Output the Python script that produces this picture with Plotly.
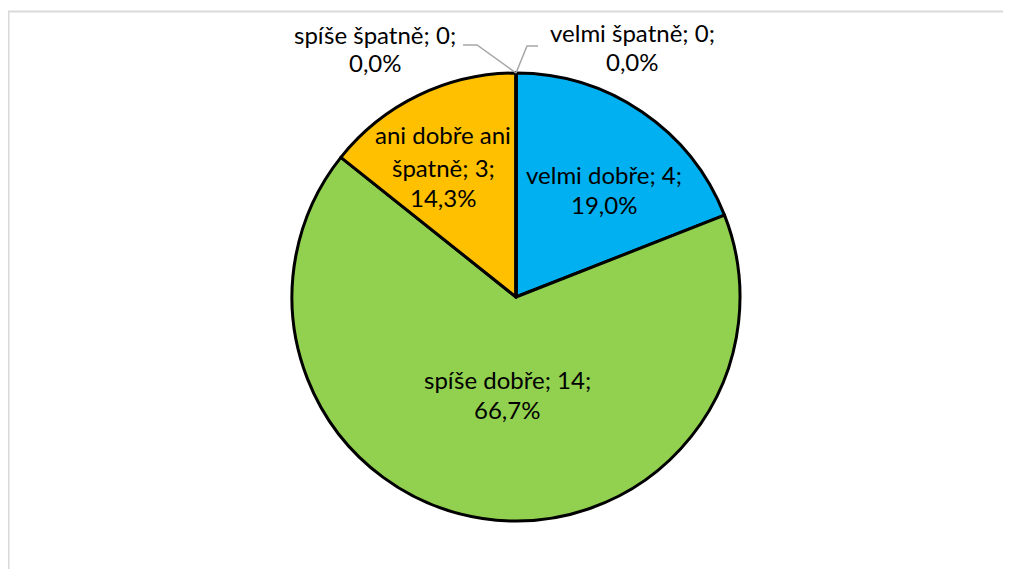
import plotly.graph_objects as go

categories = ["velmi dobře", "spíše dobře", "ani dobře ani špatně", "spíše špatně", "velmi špatně"]
values = [4, 14, 3, 0, 0]
colors = ["#00B0F0", "#92D050", "#FFC000", "#A5A5A5", "#4472C4"]

# page body has an 8px margin, so the figure is drawn 8px in from the window corner
OFF = 8
W, H = 1011 - 2 * OFF, 577 - 2 * OFF
total = sum(values)

def px(x):
    return (x - OFF) / W

def py(y):
    return 1 - (y - OFF) / H

def pct(v):
    return f"{100 * v / total:.1f}".replace(".", ",") + "%"

fig = go.Figure(go.Pie(
    labels=categories,
    values=values,
    sort=False,
    direction="clockwise",
    rotation=0,
    marker=dict(colors=colors, line=dict(color="black", width=3)),
    textinfo="none",
    hoverinfo="label+value+percent",
    showlegend=False,
    domain=dict(x=[px(292), px(740)], y=[py(521), py(73)]),
))

FONT = dict(family="Lato, Open Sans, sans-serif", size=24, color="black")

# label anchor positions (pixels in the window): center x, line center ys
label_pos = {
    "velmi dobře": (604, [175, 205]),
    "spíše dobře": (507, [379, 409]),
    "ani dobře ani špatně": (443, [135, 167, 198]),
    "spíše špatně": (375, [34, 63]),
    "velmi špatně": (632, [33, 62]),
}
for cat, v in zip(categories, values):
    x, ys = label_pos[cat]
    if cat == "ani dobře ani špatně":
        lines = ["ani dobře ani", f"špatně; {v};", pct(v)]
    else:
        lines = [f"{cat}; {v};", pct(v)]
    for ln, y in zip(lines, ys):
        fig.add_annotation(x=px(x), y=py(y), xref="paper", yref="paper", text=ln,
                           showarrow=False, font=FONT, xanchor="center", yanchor="middle")

# leader lines for zero slices
fig.add_shape(type="path", xref="paper", yref="paper",
              path=f"M {px(463)} {py(45)} L {px(477)} {py(45)} L {px(516)} {py(73)}",
              line=dict(color="#A6A6A6", width=1.5))
fig.add_shape(type="path", xref="paper", yref="paper",
              path=f"M {px(538)} {py(46)} L {px(527)} {py(46)} L {px(516)} {py(73)}",
              line=dict(color="#A6A6A6", width=1.5))

# chart frame
fig.add_shape(type="rect", xref="paper", yref="paper",
              x0=px(8.5), x1=px(1030), y0=py(600), y1=py(11.5),
              line=dict(color="#D9D9D9", width=2), layer="below")

fig.update_layout(width=W, height=H, margin=dict(l=0, r=0, t=0, b=0),
                  paper_bgcolor="white", plot_bgcolor="white")
fig.write_html("out.html")
